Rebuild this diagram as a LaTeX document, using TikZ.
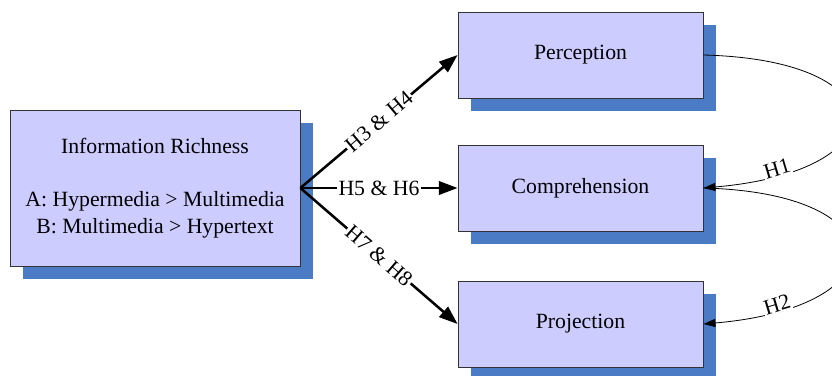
\documentclass[tikz,border=0pt]{standalone}
\usepackage{fontspec}
\setmainfont{Liberation Serif}
\usetikzlibrary{arrows.meta,shadows}
\definecolor{boxfill}{HTML}{CCCCFF}
\definecolor{shadowblue}{HTML}{4A7BC4}
\definecolor{boxline}{HTML}{333333}

\begin{document}
\begin{tikzpicture}[x=0.75pt,y=-0.75pt,
  font=\fontsize{16.3}{19.9}\selectfont,
  box/.style={draw=boxline,line width=0.6pt,fill=boxfill,inner sep=0pt,
    minimum width=183.75pt,minimum height=64.5pt,
    general shadow={fill=shadowblue,shadow xshift=10pt,shadow yshift=-10pt}},
  lab/.style={fill=white,inner sep=1pt,sloped},
  thickarr/.style={line width=1.9pt,-{Triangle[length=14pt,width=10pt]}},
  thinarr/.style={line width=0.6pt,-{Triangle[length=9pt,width=6pt]}}]
  \useasboundingbox (0,0) rectangle (832,375);
  \clip (0,0) rectangle (832,375); % 右端の曲線は枠で切る
  % 情報の豊かさ(左の箱)
  \node[box,minimum width=217.5pt,minimum height=117pt,align=center] (info) at (155,188)
    {Information Richness\\[19.9pt]A: Hypermedia > Multimedia\\B: Multimedia > Hypertext};
  % 状況認識の三段階
  \node[box] (perc) at (580.5,55) {Perception};
  \node[box] (comp) at (580.5,188) {Comprehension};
  \node[box] (proj) at (580.5,324) {Projection};
  % 仮説の矢印
  \foreach \tgt/\hyp in {perc/{H3 \& H4},comp/{H5 \& H6},proj/{H7 \& H8}}{
    \draw[thickarr] (info.east) -- node[lab]{\hyp} (\tgt.west);
  }
  % 右側の曲線(H1, H2)
  \draw[thinarr] (perc.east) .. controls +(197,5) and +(197,-17) .. node[lab,pos=0.85,above=-2pt]{H1} (comp.east);
  \draw[thinarr] (comp.east) .. controls +(197,5) and +(197,-17) .. node[lab,pos=0.85,above=-2pt]{H2} (proj.east);
\end{tikzpicture}
\end{document}
